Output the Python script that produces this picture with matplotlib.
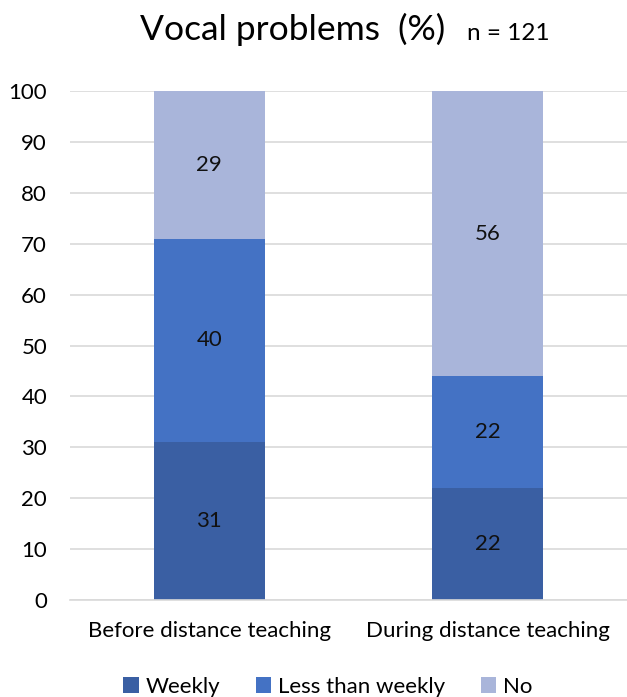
import matplotlib.pyplot as plt
import numpy as np

plt.rcParams['font.family'] = ['Lato', 'DejaVu Sans']

categories = ['Before distance teaching', 'During distance teaching']
series = ['Weekly', 'Less than weekly', 'No']
weekly = [31, 22]
less_than_weekly = [40, 22]
no = [29, 56]
colors = ['#3A5FA3', '#4472C4', '#A9B5DA']

fig = plt.figure(figsize=(6.27, 6.97), dpi=100)
ax = fig.add_axes([70 / 627, 1 - 600 / 697, 557 / 627, 509 / 697])

x = np.arange(len(categories))
bottom = np.zeros(len(categories))
for name, vals, c in zip(series, [weekly, less_than_weekly, no], colors):
    ax.bar(x, vals, 0.4, bottom=bottom, color=c, label=name, zorder=2)
    for xi, b, v in zip(x, bottom, vals):
        ax.text(xi, b + v / 2, str(v), ha='center', va='center', fontsize=16, color='#111111')
    bottom += np.array(vals)

ax.set_xlim(-0.5, 1.5)
ax.set_ylim(0, 100)
ax.set_yticks(range(0, 101, 10))
ax.set_xticks(x)
ax.set_xticklabels(categories, fontsize=16)
ax.tick_params(axis='y', labelsize=16, length=0, pad=16.5)
ax.tick_params(axis='x', length=0, pad=15)
ax.yaxis.grid(True, color='#d9d9d9', linewidth=1.2, zorder=0)
for s in ['top', 'right', 'left']:
    ax.spines[s].set_visible(False)
ax.spines['bottom'].set_color('#d9d9d9')
ax.spines['bottom'].set_linewidth(1.2)

fig.text(140 / 627, 1 - 40 / 697, 'Vocal problems  (%)', fontsize=25.5, va='baseline', ha='left')
fig.text(467 / 627, 1 - 40 / 697, 'n = 121', fontsize=17.5, va='baseline', ha='left')

fig.legend(loc='center', bbox_to_anchor=(0.523, 0.015), ncol=3, frameon=False,
           fontsize=16, handlelength=0.7, handleheight=0.7, handletextpad=0.3,
           columnspacing=1.6)

fig.savefig('out.png', dpi=100)
